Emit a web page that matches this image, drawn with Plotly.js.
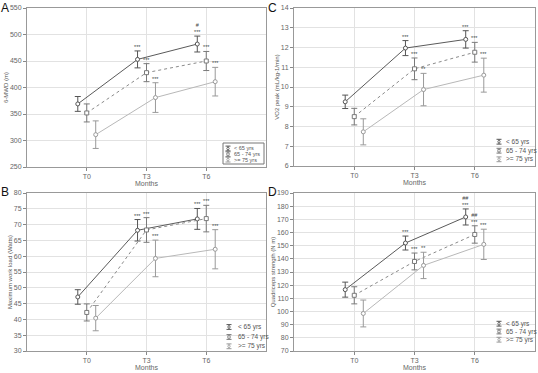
<!DOCTYPE html>
<html><head><meta charset="utf-8">
<script src="https://cdn.plot.ly/plotly-3.0.1.min.js"></script>
<style>html,body{margin:0;padding:0;background:#fff}#c{width:538px;height:373px}</style>
</head><body><div id="c"></div>
<script>
// ---------- DATA ----------
const months = ["T0", "T3", "T6"];
const groups = ["< 65 yrs", "65 - 74 yrs", ">= 75 yrs"];

// Panel A: 6-MWD (m)
const A_lt65 = [369, 453, 482];   const A_lt65_err = [14, 16, 15];
const A_6574 = [352, 428, 450];   const A_6574_err = [17, 17, 18];
const A_ge75 = [311, 381, 411];   const A_ge75_err = [26, 28, 27];
const A_sig_lt65 = ["", "***", "#<br>***"];
const A_sig_6574 = ["", "***", "***"];
const A_sig_ge75 = ["", "***", "***"];

// Panel B: Maximum work load (Watts)
const B_lt65 = [47.1, 68.2, 71.8]; const B_lt65_err = [2.3, 3.4, 3.3];
const B_6574 = [42.2, 68.3, 71.9]; const B_6574_err = [2.7, 3.9, 4.2];
const B_ge75 = [40.4, 59.3, 62.2]; const B_ge75_err = [4.0, 5.8, 6.2];
const B_sig_lt65 = ["", "***", "***"];
const B_sig_6574 = ["", "***", "***"];
const B_sig_ge75 = ["", "***", "***"];

// Panel C: VO2 peak
const C_lt65 = [9.25, 11.97, 12.41]; const C_lt65_err = [0.34, 0.38, 0.44];
const C_6574 = [8.5, 10.92, 11.76];  const C_6574_err = [0.42, 0.55, 0.5];
const C_ge75 = [7.73, 9.87, 10.6];   const C_ge75_err = [0.66, 0.82, 0.86];
const C_sig_lt65 = ["", "***", "***"];
const C_sig_6574 = ["", "***", "***"];
const C_sig_ge75 = ["", "**", "***"];

// Panel D: Quadriceps strength (N m)
const D_lt65 = [116.6, 152, 171.8]; const D_lt65_err = [5.7, 5.3, 6.1];
const D_6574 = [112.3, 138, 158.5]; const D_6574_err = [6.5, 6.4, 6.6];
const D_ge75 = [98.5, 135, 151];    const D_ge75_err = [10.2, 10, 11.5];
const D_sig_lt65 = ["", "***", "##<br>***"];
const D_sig_6574 = ["", "***", "##<br>***"];
const D_sig_ge75 = ["", "**", "***"];

// ---------- STYLE ----------
const W = 538, H = 373;
const px = x => x / W, py = y => 1 - y / H;
const FONT = "Liberation Sans, Arial, sans-serif";
const offsets = [-0.15, 0, 0.15];
const lineCol = ["#5a5a5a", "#8a8a8a", "#b8b8b8"];
const errCol = ["#555555", "#7a7a7a", "#9a9a9a"];
const dashes = ["solid", "dot", "solid"];
const symbols = ["circle", "square", "circle"];

const panels = [
  {ax: "", letter: "A", title: "6-MWD (m)", range: [250, 550], dtick: 50,
   series: [[A_lt65, A_lt65_err, A_sig_lt65], [A_6574, A_6574_err, A_sig_6574], [A_ge75, A_ge75_err, A_sig_ge75]],
   xd: [27, 266], yd: [8, 167], lx: 0, ly: 0},
  {ax: "2", letter: "B", title: "Maximum work load (Watts)", range: [30, 80], dtick: 5,
   series: [[B_lt65, B_lt65_err, B_sig_lt65], [B_6574, B_6574_err, B_sig_6574], [B_ge75, B_ge75_err, B_sig_ge75]],
   xd: [27, 266], yd: [193, 351], lx: 0, ly: 184},
  {ax: "3", letter: "C", title: "VO2 peak (mL/kg-1/min)", range: [6, 14], dtick: 1,
   series: [[C_lt65, C_lt65_err, C_sig_lt65], [C_6574, C_6574_err, C_sig_6574], [C_ge75, C_ge75_err, C_sig_ge75]],
   xd: [294, 535], yd: [8, 166], lx: 267, ly: 0},
  {ax: "4", letter: "D", title: "Quadriceps strength (N m)", range: [70, 190], dtick: 10,
   series: [[D_lt65, D_lt65_err, D_sig_lt65], [D_6574, D_6574_err, D_sig_6574], [D_ge75, D_ge75_err, D_sig_ge75]],
   xd: [294, 535], yd: [193, 351], lx: 267, ly: 184}
];

const traces = [];
const layout = {
  width: W, height: H, margin: {l: 0, r: 0, t: 0, b: 0},
  paper_bgcolor: "#fff", plot_bgcolor: "#fff", showlegend: false,
  font: {family: FONT, size: 7, color: "#666"},
  annotations: [], shapes: []
};

panels.forEach((p, pi) => {
  const xa = "x" + p.ax, ya = "y" + p.ax;
  p.series.forEach((s, si) => {
    const [vals, errs, sig] = s;
    const xs = months.map((m, i) => i + offsets[si]);
    traces.push({
      type: "scatter", mode: "lines+markers", name: groups[si],
      x: xs, y: vals, xaxis: xa, yaxis: ya,
      line: {color: lineCol[si], width: 1, dash: dashes[si]},
      marker: {symbol: symbols[si], size: 4, color: "#fff", line: {color: errCol[si], width: 1}},
      error_y: {type: "data", array: errs, visible: true, color: errCol[si], thickness: 1, width: 3}
    });
    sig.forEach((t, i) => {
      if (!t) return;
      layout.annotations.push({
        xref: xa, yref: ya, x: xs[i], y: vals[i] + errs[i], text: t,
        showarrow: false, yanchor: "bottom", xanchor: "center", yshift: -1,
        font: {size: 5.5, color: "#444", family: FONT}
      });
    });
  });
  layout["xaxis" + p.ax] = {
    domain: [px(p.xd[0]), px(p.xd[1])], anchor: ya, range: [-1, 3],
    tickvals: [0, 1, 2], ticktext: months, ticks: "outside", ticklen: 3, tickcolor: "#888",
    showgrid: true, gridcolor: "#e2e2e2", gridwidth: 1, zeroline: false,
    showline: true, linecolor: "#999", linewidth: 1, mirror: true,
    tickfont: {size: 7, color: "#666"},
    title: {text: "Months", font: {size: 7, color: "#666"}, standoff: 1}
  };
  layout["yaxis" + p.ax] = {
    domain: [py(p.yd[1]), py(p.yd[0])], anchor: xa, range: p.range, dtick: p.dtick,
    ticks: "outside", ticklen: 3, tickcolor: "#888",
    showgrid: true, gridcolor: "#e2e2e2", gridwidth: 1, zeroline: false,
    showline: true, linecolor: "#999", linewidth: 1, mirror: true,
    tickfont: {size: 7, color: "#666"},
    title: {text: p.title, font: {size: 6, color: "#555"}, standoff: 0}
  };
  layout.annotations.push({
    xref: "paper", yref: "paper", x: px(p.lx), y: py(p.ly),
    xanchor: "left", yanchor: "top", text: p.letter, showarrow: false, borderpad: 0,
    font: {size: 12, color: "#111", family: FONT}
  });
});

// ---------- custom legends (error-bar icons) ----------
const legends = [
  {box: [223, 143, 264, 164], rows: [148.5, 154.2, 159.6], sx: 228, tx: 232, fs: 5.5},
  {box: null, rows: [327, 337, 346.3], sx: 229, tx: 236, fs: 6.5},
  {box: null, rows: [141.7, 150.7, 159.3], sx: 499, tx: 504, fs: 6.5},
  {box: null, rows: [323.7, 331.5, 339.7], sx: 499, tx: 504, fs: 6.5}
];
legends.forEach(L => {
  if (L.box) {
    layout.shapes.push({type: "rect", xref: "paper", yref: "paper",
      x0: px(L.box[0]), x1: px(L.box[2]), y0: py(L.box[3]), y1: py(L.box[1]),
      line: {color: "#777", width: 1}, fillcolor: "rgba(0,0,0,0)"});
  }
  L.rows.forEach((ry, si) => {
    const h = 2.4, cw = 2.5;
    const c = errCol[si];
    const seg = (x0, y0, x1, y1) => layout.shapes.push({type: "line", xref: "paper", yref: "paper",
      x0: px(x0), y0: py(y0), x1: px(x1), y1: py(y1), line: {color: c, width: 1}});
    seg(L.sx, ry - h, L.sx, ry + h);
    seg(L.sx - cw, ry - h, L.sx + cw, ry - h);
    seg(L.sx - cw, ry + h, L.sx + cw, ry + h);
    layout.shapes.push({type: si === 1 ? "rect" : "circle", xref: "paper", yref: "paper",
      x0: px(L.sx - 1.2), x1: px(L.sx + 1.2), y0: py(ry + 1.2), y1: py(ry - 1.2),
      line: {color: c, width: 0.8}, fillcolor: "#fff"});
    layout.annotations.push({xref: "paper", yref: "paper", x: px(L.tx), y: py(ry),
      xanchor: "left", yanchor: "middle", text: groups[si], showarrow: false,
      font: {size: L.fs, color: "#555", family: FONT}});
  });
});

Plotly.newPlot("c", traces, layout, {displayModeBar: false, staticPlot: true});
</script></body></html>
